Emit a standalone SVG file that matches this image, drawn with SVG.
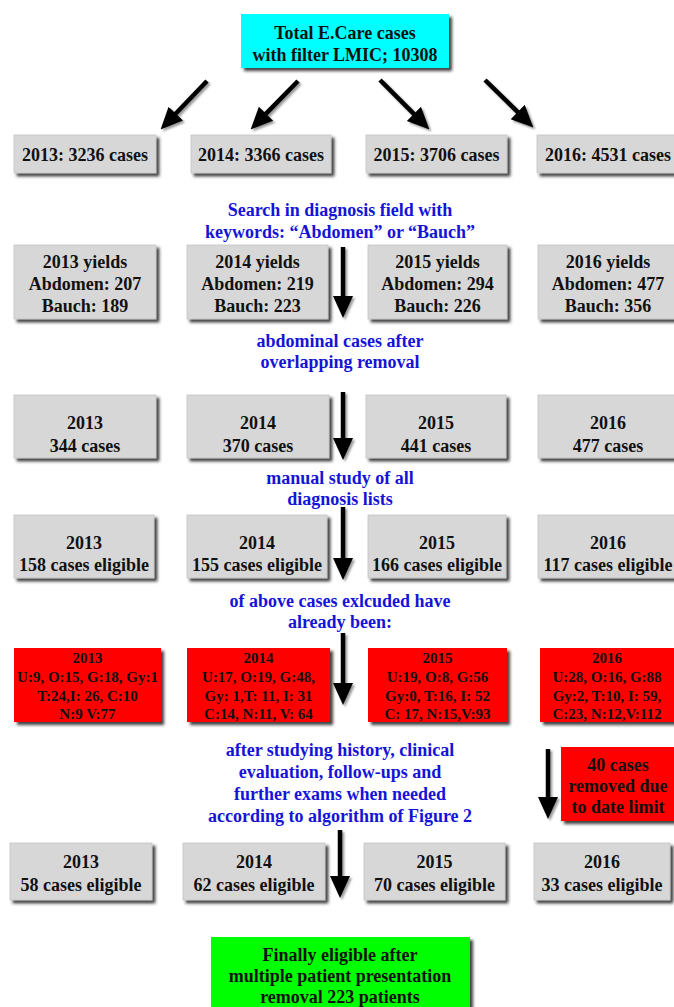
<svg xmlns="http://www.w3.org/2000/svg" width="674" height="1007" viewBox="0 0 674 1007">
<style>
.box{fill:#d7d7d7;stroke:#c4c4c4;stroke-width:0.8;filter:url(#sh)}
.cyan{fill:#00ffff;filter:url(#sh)}
.red{fill:#ff0000;filter:url(#sh)}
.green{fill:#00ff00;filter:url(#sh)}
text{font-family:"Liberation Serif","Times New Roman",serif;font-weight:bold;text-anchor:middle;fill:#111}
.t{font-size:18px}
.s{font-size:15px}
.b{font-size:18px;fill:#1414d8}
.arr{stroke:#000;stroke-width:4.5;fill:none;marker-end:url(#ah)}
</style>
<defs>
<filter id="sh" x="-10%" y="-10%" width="130%" height="140%">
<feDropShadow dx="3" dy="3" stdDeviation="1.5" flood-color="#222" flood-opacity="0.85"/>
</filter>
<filter id="sh2" filterUnits="userSpaceOnUse" x="0" y="0" width="674" height="1007">
<feDropShadow dx="2" dy="2" stdDeviation="1.2" flood-color="#000" flood-opacity="0.4"/>
</filter>
<marker id="ah" markerUnits="userSpaceOnUse" markerWidth="22" markerHeight="22" viewBox="0 0 22 22" refX="2" refY="11" orient="auto">
<path d="M0,1 L22,11 L0,21 z" fill="#000"/>
</marker>
</defs>

<g id="connectors" filter="url(#sh2)">
<line class="arr" x1="207" y1="81" x2="174.4" y2="115"/>
<line class="arr" x1="298" y1="81" x2="264.6" y2="115.1"/>
<line class="arr" x1="380" y1="80" x2="415.3" y2="115.3"/>
<line class="arr" x1="485" y1="80" x2="519.1" y2="113.4"/>
<line class="arr" x1="343" y1="247" x2="343" y2="298"/>
<line class="arr" x1="343" y1="392" x2="343" y2="440"/>
<line class="arr" x1="343" y1="507" x2="343" y2="560"/>
<line class="arr" x1="343" y1="633" x2="343" y2="685"/>
<line class="arr" x1="548" y1="749" x2="548" y2="799"/>
<line class="arr" x1="340" y1="830" x2="340" y2="878"/>
</g>

<g id="total">
<rect class="cyan" x="241" y="14" width="208" height="54"/>
<text class="t" x="345" y="39">Total E.Care cases</text>
<text class="t" x="345" y="61">with filter LMIC; 10308</text>
</g>

<g id="y2013"><rect class="box" x="14" y="135" width="142" height="38"/><text class="t" x="85" y="161">2013: 3236 cases</text></g>
<g id="y2014"><rect class="box" x="191" y="135" width="140" height="38"/><text class="t" x="261" y="161">2014: 3366 cases</text></g>
<g id="y2015"><rect class="box" x="366" y="135" width="141" height="38"/><text class="t" x="436.5" y="161">2015: 3706 cases</text></g>
<g id="y2016"><rect class="box" x="537" y="135" width="142" height="38"/><text class="t" x="608" y="161">2016: 4531 cases</text></g>

<g id="lbl-search">
<text class="b" x="340" y="216">Search in diagnosis field with</text>
<text class="b" x="340" y="238">keywords: “Abdomen” or “Bauch”</text>
</g>

<g id="yl2013"><rect class="box" x="14" y="245" width="142" height="74"/>
<text class="t" x="85" y="268">2013 yields</text><text class="t" x="85" y="290">Abdomen: 207</text><text class="t" x="85" y="312">Bauch: 189</text></g>
<g id="yl2014"><rect class="box" x="187" y="245" width="141" height="74"/>
<text class="t" x="257.5" y="268">2014 yields</text><text class="t" x="257.5" y="290">Abdomen: 219</text><text class="t" x="257.5" y="312">Bauch: 223</text></g>
<g id="yl2015"><rect class="box" x="368" y="245" width="139" height="74"/>
<text class="t" x="437.5" y="268">2015 yields</text><text class="t" x="437.5" y="290">Abdomen: 294</text><text class="t" x="437.5" y="312">Bauch: 226</text></g>
<g id="yl2016"><rect class="box" x="538" y="245" width="141" height="74"/>
<text class="t" x="608" y="268">2016 yields</text><text class="t" x="608" y="290">Abdomen: 477</text><text class="t" x="608" y="312">Bauch: 356</text></g>

<g id="lbl-abd">
<text class="b" x="340" y="347">abdominal cases after</text>
<text class="b" x="340" y="368">overlapping removal</text>
</g>

<g id="c2013"><rect class="box" x="14" y="395" width="142" height="63"/>
<text class="t" x="85" y="429">2013</text><text class="t" x="85" y="452">344 cases</text></g>
<g id="c2014"><rect class="box" x="187" y="395" width="142" height="63"/>
<text class="t" x="258" y="429">2014</text><text class="t" x="258" y="452">370 cases</text></g>
<g id="c2015"><rect class="box" x="366" y="395" width="140" height="63"/>
<text class="t" x="436" y="429">2015</text><text class="t" x="436" y="452">441 cases</text></g>
<g id="c2016"><rect class="box" x="538" y="395" width="141" height="63"/>
<text class="t" x="608" y="429">2016</text><text class="t" x="608" y="452">477 cases</text></g>

<g id="lbl-manual">
<text class="b" x="340" y="484">manual study of all</text>
<text class="b" x="340" y="505">diagnosis lists</text>
</g>

<g id="e2013"><rect class="box" x="14" y="515" width="140" height="63"/>
<text class="t" x="84" y="549">2013</text><text class="t" x="84" y="571">158 cases eligible</text></g>
<g id="e2014"><rect class="box" x="187" y="515" width="140" height="63"/>
<text class="t" x="257" y="549">2014</text><text class="t" x="257" y="571">155 cases eligible</text></g>
<g id="e2015"><rect class="box" x="368" y="515" width="138" height="63"/>
<text class="t" x="437" y="549">2015</text><text class="t" x="437" y="571">166 cases eligible</text></g>
<g id="e2016"><rect class="box" x="538" y="515" width="141" height="63"/>
<text class="t" x="608" y="549">2016</text><text class="t" x="608" y="571">117 cases eligible</text></g>

<g id="lbl-excl">
<text class="b" x="340" y="607">of above cases exlcuded have</text>
<text class="b" x="340" y="628">already been:</text>
</g>

<g id="x2013"><rect class="red" x="14" y="648" width="147" height="74"/>
<text class="s" x="87.5" y="663">2013</text><text class="s" x="87.5" y="682">U:9, O:15, G:18, Gy:1</text><text class="s" x="87.5" y="701">T:24,I: 26, C:10</text><text class="s" x="87.5" y="719">N:9 V:77</text></g>
<g id="x2014"><rect class="red" x="187" y="648" width="143" height="74"/>
<text class="s" x="258.5" y="663">2014</text><text class="s" x="258.5" y="682">U:17, O:19, G:48,</text><text class="s" x="258.5" y="701">Gy: 1,T: 11, I: 31</text><text class="s" x="258.5" y="719">C:14, N:11, V: 64</text></g>
<g id="x2015"><rect class="red" x="368" y="648" width="139" height="74"/>
<text class="s" x="437.5" y="663">2015</text><text class="s" x="437.5" y="682">U:19, O:8, G:56</text><text class="s" x="437.5" y="701">Gy:0, T:16, I: 52</text><text class="s" x="437.5" y="719">C: 17, N:15,V:93</text></g>
<g id="x2016"><rect class="red" x="540" y="648" width="139" height="74"/>
<text class="s" x="607" y="663">2016</text><text class="s" x="607" y="682">U:28, O:16, G:88</text><text class="s" x="607" y="701">Gy:2, T:10, I: 59,</text><text class="s" x="607" y="719">C:23, N:12,V:112</text></g>

<g id="lbl-after">
<text class="b" x="340" y="756">after studying history, clinical</text>
<text class="b" x="340" y="778">evaluation, follow-ups and</text>
<text class="b" x="340" y="800">further exams when needed</text>
<text class="b" x="340" y="822">according to algorithm of Figure 2</text>
</g>

<g id="removed"><rect class="red" x="561" y="747" width="118" height="74"/>
<text class="t" x="618" y="771">40 cases</text><text class="t" x="618" y="792">removed due</text><text class="t" x="618" y="813">to date limit</text></g>

<g id="f2013"><rect class="box" x="10" y="843" width="142" height="57"/>
<text class="t" x="81" y="868">2013</text><text class="t" x="81" y="891">58 cases eligible</text></g>
<g id="f2014"><rect class="box" x="183" y="843" width="142" height="57"/>
<text class="t" x="254" y="868">2014</text><text class="t" x="254" y="891">62 cases eligible</text></g>
<g id="f2015"><rect class="box" x="364" y="843" width="141" height="57"/>
<text class="t" x="434.5" y="868">2015</text><text class="t" x="434.5" y="891">70 cases eligible</text></g>
<g id="f2016"><rect class="box" x="534" y="843" width="136" height="57"/>
<text class="t" x="602" y="868">2016</text><text class="t" x="602" y="891">33 cases eligible</text></g>

<g id="final"><rect class="green" x="211" y="937" width="259" height="80"/>
<text class="t" x="340" y="961">Finally eligible after</text>
<text class="t" x="340" y="982">multiple patient presentation</text>
<text class="t" x="340" y="1003">removal 223 patients</text></g>
</svg>
